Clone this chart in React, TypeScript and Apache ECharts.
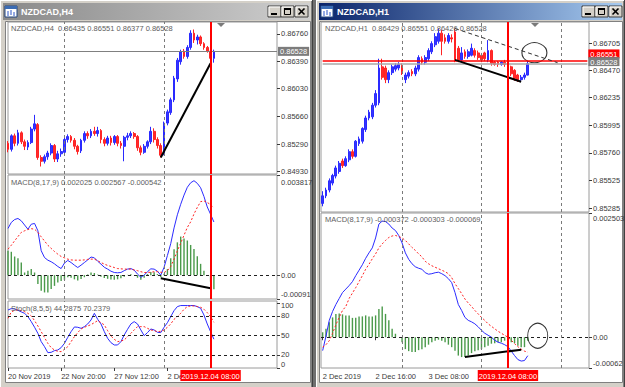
import React, { useEffect, useRef } from "react";
import * as echarts from "echarts";

const FONT = "'Liberation Sans', Arial, Helvetica, sans-serif";
const TXT = "#3a3a3a";
const INFO = "#5e5e5e";

// ---------------- Left window : NZDCAD,H4 ----------------
const leftWindowTitle = "NZDCAD,H4";
const leftInfo = "NZDCAD,H4  0.86435 0.86551 0.86377 0.86528";
const leftMacdInfo = "MACD(8,17,9) 0.002025 0.002567 -0.000542";
const leftStochInfo = "Stoch(8,5,5) 44.2875 70.2379";
const leftSlots = 82;
// [open, close, low, high]
const leftCandles = [
  [0.8530, 0.8522, 0.8518, 0.8533], [0.8522, 0.8540, 0.8519, 0.8542], [0.8540, 0.8530, 0.8526, 0.8543],
  [0.8530, 0.8544, 0.8527, 0.8548], [0.8544, 0.8532, 0.8529, 0.8546], [0.8532, 0.8526, 0.8521, 0.8535],
  [0.8525, 0.8531, 0.8521, 0.8534], [0.8531, 0.8549, 0.8529, 0.8552], [0.8549, 0.8556, 0.8546, 0.8568],
  [0.8555, 0.8511, 0.8508, 0.8557], [0.8511, 0.8506, 0.8499, 0.8514], [0.8506, 0.8512, 0.8503, 0.8515],
  [0.8512, 0.8517, 0.8508, 0.8520], [0.8517, 0.8527, 0.8514, 0.8530], [0.8527, 0.8509, 0.8505, 0.8529],
  [0.8509, 0.8516, 0.8505, 0.8520], [0.8516, 0.8519, 0.8512, 0.8523], [0.8518, 0.8535, 0.8515, 0.8538],
  [0.8535, 0.8539, 0.8531, 0.8542], [0.8539, 0.8534, 0.8531, 0.8541], [0.8534, 0.8526, 0.8522, 0.8537],
  [0.8526, 0.8519, 0.8515, 0.8528], [0.8520, 0.8534, 0.8517, 0.8536], [0.8534, 0.8543, 0.8531, 0.8546],
  [0.8543, 0.8540, 0.8536, 0.8546], [0.8540, 0.8546, 0.8537, 0.8549], [0.8546, 0.8543, 0.8540, 0.8552],
  [0.8543, 0.8547, 0.8539, 0.8552], [0.8547, 0.8535, 0.8530, 0.8549], [0.8535, 0.8530, 0.8526, 0.8538],
  [0.8530, 0.8537, 0.8527, 0.8540], [0.8537, 0.8531, 0.8527, 0.8540], [0.8531, 0.8539, 0.8528, 0.8541],
  [0.8539, 0.8530, 0.8526, 0.8541], [0.8530, 0.8527, 0.8523, 0.8533], [0.8526, 0.8538, 0.8506, 0.8540],
  [0.8538, 0.8540, 0.8534, 0.8544], [0.8540, 0.8543, 0.8537, 0.8546], [0.8543, 0.8539, 0.8536, 0.8545],
  [0.8539, 0.8524, 0.8520, 0.8541], [0.8524, 0.8518, 0.8514, 0.8527], [0.8518, 0.8526, 0.8516, 0.8529],
  [0.8526, 0.8532, 0.8523, 0.8534], [0.8532, 0.8546, 0.8529, 0.8552], [0.8546, 0.8535, 0.8531, 0.8550],
  [0.8535, 0.8527, 0.8523, 0.8538], [0.8527, 0.8514, 0.8511, 0.8530], [0.8516, 0.8557, 0.8514, 0.8559],
  [0.8557, 0.8572, 0.8554, 0.8575], [0.8571, 0.8588, 0.8568, 0.8591], [0.8588, 0.8617, 0.8585, 0.8620],
  [0.8616, 0.8641, 0.8612, 0.8644], [0.8639, 0.8652, 0.8635, 0.8655], [0.8653, 0.8646, 0.8643, 0.8656],
  [0.8646, 0.8658, 0.8643, 0.8661], [0.8658, 0.8677, 0.8655, 0.8681], [0.8677, 0.8668, 0.8664, 0.8682],
  [0.8668, 0.8672, 0.8662, 0.8675], [0.8672, 0.8663, 0.8660, 0.8674], [0.8663, 0.8658, 0.8655, 0.8665],
  [0.8658, 0.8653, 0.8651, 0.8660], [0.8653, 0.86435, 0.8640, 0.8655], [0.86435, 0.86528, 0.86377, 0.86551],
];
const leftMacdMain = [
  0.00178, 0.00201, 0.00212, 0.00216, 0.00207, 0.00191, 0.00175, 0.00194, 0.00197, 0.00169, 0.00093, 0.00067,
  0.00057, 0.00051, 0.00043, 0.00033, 0.00025, 0.00046, 0.00056, 0.00048, 0.00038, 0.00029, 0.00038, 0.00048,
  0.00058, 0.00069, 0.00066, 0.00053, 0.00042, 0.0003, 0.00023, 0.00015, 0.0001, 0.00009, 0.0001, 0.00017,
  0.00023, 0.00025, 0.00019, 0.00004, -0.00008, 0.0, 0.00013, 0.00024, 0.00023, 0.00015, 0.0, 0.0003,
  0.00075, 0.0012, 0.0018, 0.0023, 0.0027, 0.00305, 0.00335, 0.00352, 0.0036, 0.0035, 0.00333, 0.003,
  0.0026, 0.00232, 0.002025,
];
const leftMacdSignal = [
  0.00099, 0.00114, 0.00131, 0.00147, 0.00163, 0.00169, 0.00174, 0.00177, 0.00175, 0.00163, 0.00146, 0.0013,
  0.00114, 0.00102, 0.0009, 0.0008, 0.00071, 0.00066, 0.00061, 0.00058, 0.00057, 0.00057, 0.00057, 0.00058,
  0.0006, 0.00061, 0.00061, 0.00055, 0.00048, 0.00042, 0.00037, 0.00033, 0.00029, 0.00025, 0.00024, 0.00023,
  0.00023, 0.00023, 0.0002, 0.00017, 0.00013, 0.0001, 0.0001, 0.00011, 0.00013, 0.00013, 0.00011, 0.0001,
  0.00017, 0.00033, 0.00061, 0.00093, 0.00122, 0.00152, 0.00182, 0.00203, 0.00233, 0.00258, 0.0028, 0.00283,
  0.00277, 0.00269, 0.002567,
];
const leftMacdHist = [
  0.00093, 0.00089, 0.00071, 0.00064, 0.00048, 0.0001, 0.00017, 0.00023, 0.0001, -0.00034, -0.0006, -0.00066,
  -0.00066, -0.00053, -0.00041, -0.00028, -0.00022, -0.00018, -0.00008, -0.0001, -0.00016, -0.0002, -0.00015, -0.00008,
  0.00002, 0.0001, 0.00008, 0.00002, -0.00006, -0.00011, -0.00014, -0.00017, -0.00018, -0.00016, -0.00012, -0.00006,
  0.00001, 0.00003, 0.0, -0.0001, -0.00018, -0.0001, 0.00004, 0.00012, 0.00011, 0.00004, -0.00008, 0.00005,
  0.00023, 0.00064, 0.00099, 0.00125, 0.00147, 0.0014, 0.00132, 0.00115, 0.001, 0.00072, 0.00043, 0.00017,
  -0.00002, -0.00025, -0.000542,
];
const leftStochMain = [
  89.2, 91.3, 90.8, 88.7, 86.2, 84.1, 79.0, 71.3, 62.6, 53.3, 40.5, 32.8, 23.6, 24.1, 26.7, 27.7, 31.3,
  37.9, 47.2, 55.9, 63.1, 62.6, 61.0, 63.6, 67.7, 73.8, 84.1, 74.9, 67.7, 55.9, 45.6, 39.0, 35.4, 35.4,
  40.5, 50.8, 59.5, 67.7, 71.3, 67.7, 58.5, 49.7, 54.4, 60.0, 58.5, 54.9, 54.4,
  62.6, 69.7, 79.0, 88.2, 94.4, 96.0, 96.0, 96.0, 96.0, 96.0, 94.4, 91.8, 81.5, 67.7, 55.9, 44.2875,
];
const leftStochSignal = [
  76.4, 86.2, 88.7, 89.2, 88.2, 86.7, 84.1, 80.0, 72.8, 64.6, 55.9, 46.7, 37.9, 31.3, 27.7, 25.6, 25.1,
  28.7, 32.8, 40.5, 48.2, 54.4, 60.0, 62.6, 64.6, 66.7, 69.7, 72.8, 69.7, 66.2, 57.4, 49.2, 44.1, 40.5,
  41.5, 43.1, 48.2, 53.3, 58.5, 63.6, 63.6, 63.6, 61.0, 58.5, 57.4, 55.9, 56.4,
  58.5, 62.6, 67.7, 74.9, 79.0, 84.1, 90.3, 94.4, 95.4, 95.4, 94.4, 93.3, 90.3, 85.1, 79.0, 70.2379,
];
const leftTimeTicks: [number, string][] = [[0, "20 Nov 2019"], [16, "22 Nov 20:00"], [32, "27 Nov 12:00"], [48, "2 De"]];
const leftPriceTicks = [0.8676, 0.8639, 0.8603, 0.8566, 0.8529, 0.8493];
const leftPriceRange = [0.8489, 0.8692];
const leftMacdTicks = [0.003817, 0, -0.00091];
const leftMacdTickText = ["0.003817", "0.00", "-0.00091"];
const stochTicks = [100, 80, 50, 20, 0];
const stochTickText = ["100", "80", "50", "20", "0"];
const stochLevels = [80, 50, 20];
const leftSeparators = [17, 47];
const leftMarker = 61;
const leftBid = 0.86528;
const leftTrend: [number, number][] = [[46, 0.8511], [61, 0.8637]];
const leftMacdTrend: [number, number][] = [[46, -0.00012], [61, -0.0005]];

// ---------------- Right window : NZDCAD,H1 ----------------
const rightWindowTitle = "NZDCAD,H1";
const rightInfo = "NZDCAD,H1  0.86429 0.86551 0.86426 0.86528";
const rightMacdInfo = "MACD(8,17,9) -0.000372 -0.000303 -0.000069";
const rightSlots = 81;
const rightCandles = [
  [0.85325, 0.8539, 0.853, 0.8543], [0.8539, 0.8544, 0.8537, 0.8546], [0.8544, 0.8552, 0.8542, 0.8554],
  [0.855, 0.85565, 0.8548, 0.8558], [0.8556, 0.8563, 0.8554, 0.8565], [0.856, 0.8567, 0.8558, 0.8569],
  [0.8569, 0.8565, 0.8563, 0.8571], [0.8565, 0.8571, 0.8564, 0.8573], [0.857, 0.8577, 0.8568, 0.8579],
  [0.8577, 0.8573, 0.8571, 0.8579], [0.8573, 0.8586, 0.8572, 0.8587], [0.8584, 0.8588, 0.8582, 0.859],
  [0.8586, 0.8597, 0.8584, 0.8598], [0.8596, 0.8606, 0.8594, 0.8608], [0.8606, 0.8611, 0.8604, 0.8613],
  [0.8607, 0.8617, 0.8605, 0.8619], [0.8617, 0.8627, 0.8615, 0.863], [0.8619, 0.8649, 0.8617, 0.8657],
  [0.865, 0.8641, 0.8639, 0.8657], [0.8649, 0.8639, 0.8636, 0.8651], [0.8639, 0.8645, 0.8636, 0.8647],
  [0.8645, 0.865, 0.8643, 0.8652], [0.8648, 0.8651, 0.8646, 0.8653], [0.8649, 0.8652, 0.8647, 0.8654],
  [0.8651, 0.8645, 0.8643, 0.8653], [0.8639, 0.8643, 0.8636, 0.8645], [0.8642, 0.8645, 0.864, 0.8647],
  [0.8646, 0.8644, 0.8642, 0.8648], [0.8644, 0.8649, 0.8642, 0.8651], [0.8648, 0.8658, 0.8646, 0.866],
  [0.8657, 0.8654, 0.8652, 0.8659], [0.8654, 0.8658, 0.8652, 0.866], [0.8657, 0.8664, 0.8655, 0.8666],
  [0.8663, 0.867, 0.8661, 0.8672], [0.8669, 0.8676, 0.8667, 0.8679], [0.8672, 0.8679, 0.867, 0.8683],
  [0.8679, 0.8672, 0.866, 0.8682], [0.8675, 0.8672, 0.867, 0.8678], [0.8672, 0.8677, 0.867, 0.8679],
  [0.8675, 0.8674, 0.8671, 0.8678], [0.868, 0.8656, 0.8654, 0.8683], [0.8666, 0.8656, 0.8654, 0.8668],
  [0.8656, 0.8662, 0.8654, 0.8667], [0.8663, 0.8659, 0.8657, 0.8665], [0.8659, 0.8663, 0.8657, 0.8665],
  [0.866, 0.8666, 0.8659, 0.867], [0.8664, 0.866, 0.8658, 0.8666], [0.8662, 0.8658, 0.8656, 0.8664],
  [0.866, 0.8656, 0.8654, 0.8662], [0.8662, 0.8657, 0.8655, 0.8663], [0.8656, 0.8664, 0.8654, 0.8673],
  [0.8664, 0.8653, 0.8651, 0.8665], [0.8654, 0.8652, 0.8651, 0.8655], [0.8654, 0.8652, 0.865, 0.8655],
  [0.8652, 0.8654, 0.8651, 0.8655], [0.8654, 0.8652, 0.865, 0.8656], [0.8654, 0.865, 0.8648, 0.8655],
  [0.865, 0.8644, 0.8642, 0.8651], [0.8647, 0.864, 0.8638, 0.8648], [0.8643, 0.8639, 0.8637, 0.8644],
  [0.8639, 0.8641, 0.8638, 0.8643], [0.8641, 0.8643, 0.8639, 0.8645], [0.86429, 0.86528, 0.86426, 0.86551],
];
const rightMacdMain = [
  -0.00027, 0.00002, 0.00034, 0.00052, 0.00066, 0.00078, 0.0009, 0.00097, 0.00104, 0.00112, 0.00124, 0.00135,
  0.00146, 0.00159, 0.0017, 0.0018, 0.002, 0.00228, 0.00234, 0.00233, 0.00228, 0.0022, 0.00215, 0.00205,
  0.0019, 0.0017, 0.00157, 0.00148, 0.00142, 0.00139, 0.00137, 0.0013, 0.00127, 0.00128, 0.0013, 0.00131,
  0.00128, 0.00124, 0.00118, 0.0011, 0.0009, 0.00066, 0.00054, 0.0004, 0.00034, 0.00031, 0.00027, 0.00021,
  0.00014, 0.00008, 0.00004, 0.0, -0.00006, -0.0001, -0.00012, -0.00015, -0.00019, -0.00028, -0.00037, -0.00045,
  -0.00048, -0.00047, -0.000372,
];
const rightMacdSignal = [
  -0.0002, -0.00015, -0.00007, 0.00008, 0.00025, 0.0004, 0.00054, 0.00062, 0.00078, 0.00089, 0.001, 0.00112,
  0.00124, 0.00137, 0.00147, 0.00158, 0.00168, 0.0018, 0.00188, 0.00195, 0.00201, 0.00204, 0.00205, 0.00203,
  0.002, 0.00195, 0.00188, 0.00181, 0.00175, 0.00168, 0.00162, 0.00153, 0.00148, 0.00144, 0.00141, 0.00138,
  0.00135, 0.00132, 0.00128, 0.0012, 0.00108, 0.00098, 0.00088, 0.00077, 0.00069, 0.00062, 0.00054, 0.00047,
  0.0004, 0.00034, 0.00027, 0.00022, 0.00017, 0.00012, 0.00008, 0.00004, 0.0, -0.00006, -0.00013, -0.00019,
  -0.00024, -0.00028, -0.000303,
];
const rightMacdHist = [
  0.0001, 0.00017, 0.0003, 0.0004, 0.00047, 0.00048, 0.00046, 0.00044, 0.00044, 0.00039, 0.00039, 0.00042,
  0.00042, 0.00044, 0.00042, 0.00042, 0.00044, 0.00057, 0.00062, 0.00047, 0.00034, 0.00017, 0.00007, 0.0,
  -0.0001, -0.00024, -0.00028, -0.0003, -0.0003, -0.00026, -0.00024, -0.0002, -0.00015, -0.0001, -0.00007, -0.00005,
  -0.00007, -0.0001, -0.00015, -0.0002, -0.00027, -0.00037, -0.0004, -0.0004, -0.00037, -0.00032, -0.00028, -0.00026,
  -0.00024, -0.0002, -0.00017, -0.00013, -0.00012, -0.0001, -0.0001, -0.00007, -0.00007, -0.0001, -0.00012, -0.00017,
  -0.0002, -0.0002, -0.000069,
];
const rightTimeTicks: [number, string][] = [[0, "2 Dec 2019"], [16, "2 Dec 16:00"], [32, "3 Dec 08:00"]];
const rightPriceTicks = [0.86705, 0.8647, 0.86235, 0.85995, 0.8576, 0.85525, 0.85285];
const rightPriceRange = [0.85251, 0.86886];
const rightMacdTicks = [0.002503, 0, -0.00062];
const rightMacdTickText = ["0.002503", "0.00", "-0.00062"];
const rightSeparators = [24, 48, 72];
const rightMarker = 56;
const rightBid = 0.86528;
const rightHLine = 0.86551;
const rightTrend: [number, number][] = [[40, 0.8656], [60, 0.86372]];
const rightDotted: [number, number][] = [[40, 0.8683], [71, 0.86536]];
const rightCircle: [number, number] = [64, 0.86622];
const rightMacdTrend: [number, number][] = [[43, -0.0004], [60, -0.00025]];
const rightMacdCircle: [number, number] = [65, 0.00003];
const markerLabel = "2019.12.04 08:00";

function buildOption() {
  const lg = (a: string, b: string) =>
    new echarts.graphic.LinearGradient(0, 0, 1, 0, [
      { offset: 0, color: a },
      { offset: 1, color: b },
    ]);

  const buttons = (x0: number, y0: number) => {
    const els: any[] = [];
    const xs = [x0, x0 + 13, x0 + 27];
    xs.forEach((x, k) => {
      els.push({ type: "rect", z: -8, shape: { x: x, y: y0, width: 13, height: 11 }, style: { fill: "#d4d0c8", stroke: "#404040", lineWidth: 1 } });
      els.push({ type: "polyline", z: -8, shape: { points: [[x + 1, y0 + 10], [x + 1, y0 + 1], [x + 12, y0 + 1]] }, style: { stroke: "#ffffff", fill: null, lineWidth: 1 } });
      if (k === 0) els.push({ type: "rect", z: -7, shape: { x: x + 3, y: y0 + 7, width: 6, height: 2 }, style: { fill: "#000" } });
      if (k === 1) {
        els.push({ type: "rect", z: -7, shape: { x: x + 3.5, y: y0 + 2.5, width: 6, height: 6 }, style: { fill: null, stroke: "#000", lineWidth: 1 } });
        els.push({ type: "rect", z: -7, shape: { x: x + 3, y: y0 + 2, width: 7, height: 2 }, style: { fill: "#000" } });
      }
      if (k === 2) {
        els.push({ type: "line", z: -7, shape: { x1: x + 3.5, y1: y0 + 2.5, x2: x + 9.5, y2: y0 + 8.5 }, style: { stroke: "#000", lineWidth: 1.6 } });
        els.push({ type: "line", z: -7, shape: { x1: x + 9.5, y1: y0 + 2.5, x2: x + 3.5, y2: y0 + 8.5 }, style: { stroke: "#000", lineWidth: 1.6 } });
      }
    });
    return els;
  };

  const icon = (x: number, y: number) => [
    { type: "rect", z: -8, shape: { x: x, y: y, width: 12, height: 11 }, style: { fill: "#ffffff", stroke: "#24467e", lineWidth: 1 } },
    { type: "rect", z: -8, shape: { x: x, y: y, width: 12, height: 3 }, style: { fill: "#3b6cb4" } },
    { type: "line", z: -7, shape: { x1: x + 3, y1: y + 5, x2: x + 3, y2: y + 10 }, style: { stroke: "#2a55c8", lineWidth: 1 } },
    { type: "line", z: -7, shape: { x1: x + 6, y1: y + 4, x2: x + 6, y2: y + 9 }, style: { stroke: "#2a55c8", lineWidth: 1 } },
    { type: "line", z: -7, shape: { x1: x + 9, y1: y + 6, x2: x + 9, y2: y + 10 }, style: { stroke: "#2a55c8", lineWidth: 1 } },
  ];

  const chrome: any[] = [
    { type: "rect", z: -10, shape: { x: 0, y: 0, width: 625, height: 387 }, style: { fill: "#6f6f6f" } },
    // left window
    { type: "rect", z: -10, shape: { x: 0, y: 0, width: 313, height: 387 }, style: { fill: "#d4d0c8" } },
    { type: "line", z: -9, shape: { x1: 0.5, y1: 0, x2: 0.5, y2: 387 }, style: { stroke: "#ffffff" } },
    { type: "line", z: -9, shape: { x1: 0, y1: 0.5, x2: 313, y2: 0.5 }, style: { stroke: "#ffffff" } },
    { type: "line", z: -9, shape: { x1: 311.5, y1: 1, x2: 311.5, y2: 387 }, style: { stroke: "#808080" } },
    { type: "line", z: -9, shape: { x1: 312.5, y1: 0, x2: 312.5, y2: 387 }, style: { stroke: "#404040" } },
    { type: "rect", z: -9, shape: { x: 3, y: 3, width: 307, height: 17 }, style: { fill: lg("#8a8a8a", "#cfcfcf") } },
    ...icon(5, 6),
    { type: "text", z: -7, style: { text: leftWindowTitle, x: 21, y: 11.5, fill: "#ffffff", font: "bold 9px " + FONT, verticalAlign: "middle" } },
    ...buttons(268, 6),
    { type: "rect", z: -9, shape: { x: 5.5, y: 21.5, width: 305, height: 361 }, style: { fill: "#ffffff", stroke: "#808080", lineWidth: 1 } },
    // right window
    { type: "rect", z: -10, shape: { x: 316, y: 0, width: 309, height: 387 }, style: { fill: "#d4d0c8" } },
    { type: "line", z: -9, shape: { x1: 316.5, y1: 0, x2: 316.5, y2: 387 }, style: { stroke: "#ffffff" } },
    { type: "line", z: -9, shape: { x1: 316, y1: 0.5, x2: 625, y2: 0.5 }, style: { stroke: "#ffffff" } },
    { type: "line", z: -9, shape: { x1: 623.5, y1: 1, x2: 623.5, y2: 387 }, style: { stroke: "#808080" } },
    { type: "line", z: -9, shape: { x1: 624.5, y1: 0, x2: 624.5, y2: 387 }, style: { stroke: "#404040" } },
    { type: "rect", z: -9, shape: { x: 319, y: 3, width: 303, height: 17 }, style: { fill: lg("#0a246a", "#a6caf0") } },
    ...icon(321, 6),
    { type: "text", z: -7, style: { text: rightWindowTitle, x: 337, y: 11.5, fill: "#ffffff", font: "bold 9px " + FONT, verticalAlign: "middle" } },
    ...buttons(582, 6),
    { type: "rect", z: -9, shape: { x: 319.5, y: 21.5, width: 303, height: 361 }, style: { fill: "#ffffff", stroke: "#808080", lineWidth: 1 } },
    // shift markers
    { type: "polygon", z: 20, shape: { points: [[217, 23], [225, 23], [221, 27]] }, style: { fill: "#7a7a7a" } },
    { type: "polygon", z: 20, shape: { points: [[531, 23], [539, 23], [535, 27]] }, style: { fill: "#7a7a7a" } },
  ];

  const axisText = { fontSize: 7.5, color: TXT, fontFamily: FONT };
  // value axis: ticks at the values, labels nudged by a few pixels (shiftPx, + = down) like MT4 does at the pane edges
  const valueAxis = (gridIndex: number, min: number, max: number, heightPx: number, ticks: number[], texts: string[], shiftPx: number[]) => {
    const perPx = (max - min) / heightPx;
    const labelPos = ticks.map((t, k) => t - shiftPx[k] * perPx);
    return {
      type: "value",
      gridIndex,
      position: "right",
      min,
      max,
      splitLine: { show: false },
      axisLine: { show: false },
      axisTick: { show: true, length: 3, customValues: ticks, lineStyle: { color: TXT, width: 1 } },
      axisLabel: {
        show: true,
        customValues: labelPos,
        formatter: (v: number) => {
          let best = 0;
          labelPos.forEach((p, k) => { if (Math.abs(p - v) < Math.abs(labelPos[best] - v)) best = k; });
          return texts[best];
        },
        margin: 4, lineHeight: 8, showMinLabel: true, showMaxLabel: true, hideOverlap: false, ...axisText,
      },
    };
  };
  const catAxis = (gridIndex: number, n: number, gap: boolean, ticks?: [number, string][]) => {
    const cats = Array.from({ length: n }, (_, i) => String(i));
    const m = new Map(ticks || []);
    return {
      type: "category",
      gridIndex,
      data: cats,
      boundaryGap: gap,
      axisLine: { show: false },
      splitLine: { show: false },
      axisTick: ticks
        ? { show: true, alignWithLabel: true, length: 3, interval: (i: number) => m.has(i), lineStyle: { color: TXT } }
        : { show: false },
      axisLabel: ticks
        ? { show: true, interval: (i: number) => m.has(i), formatter: (_v: string, i: number) => m.get(i) || "", align: "left", margin: 4, ...axisText }
        : { show: false },
    };
  };

  const gridBase = { show: true, borderColor: "#9a9a9a", borderWidth: 1, backgroundColor: "transparent", containLabel: false, outerBoundsMode: "none" };

  const candleStyle = { color: "#3535ff", color0: "#ff2b2b", borderColor: "#2a2aff", borderColor0: "#ff2424", borderWidth: 1 };
  const sepLines = (idx: number[]) => idx.map((i) => ({ xAxis: i, lineStyle: { color: "#7a7a7a", type: [3, 3], width: 1 } }));
  const redV = (i: number, withLabel: boolean) => ({
    xAxis: i,
    lineStyle: { color: "#ff0000", type: "solid", width: 2 },
    label: withLabel
      ? { show: true, position: "start", formatter: () => markerLabel, backgroundColor: "#ff0000", color: "#ffffff", fontSize: 7.5, fontFamily: FONT, padding: [2, 1, 1, 1], distance: 2 }
      : { show: false },
  });
  const hLevel = (v: number) => ({ yAxis: v, lineStyle: { color: "#202020", type: [3, 3], width: 1 } });
  const seg = (a: [number, number], b: [number, number], style: any, label?: any) => [
    { coord: a, lineStyle: style, label: label || { show: false } },
    { coord: b },
  ];
  // price box at the right end of a horizontal line; liftPx raises the box above the line
  const priceBox = (bg: string, v: number, liftPx: number) => ({
    show: true,
    position: "end",
    distance: 1,
    formatter: () => (liftPx > 0 ? `{a|${v.toFixed(5)}}\n{b| }` : `{a|${v.toFixed(5)}}`),
    rich: {
      a: { backgroundColor: bg, color: "#ffffff", fontSize: 7.5, fontFamily: FONT, padding: [1, 2, 0, 2], lineHeight: 10 },
      b: { fontSize: 1, lineHeight: liftPx * 2 },
    },
  });
  const ml = (data: any[]) => ({ silent: true, symbol: ["none", "none"], label: { show: false }, emphasis: { disabled: true }, data });
  const line = (xi: number, data: number[], color: string, dashed: boolean) => ({
    type: "line", xAxisIndex: xi, yAxisIndex: xi, data, symbol: "none", silent: true,
    lineStyle: { color, width: 1, type: dashed ? [2, 2] : "solid" },
  });
  const infoTitle = (text: string, left: number, top: number) => ({
    text, left, top, padding: 0, textStyle: { fontSize: 7.5, fontWeight: "normal", color: INFO, fontFamily: FONT },
  });
  const fmt5 = (a: number[]) => a.map((v) => v.toFixed(5));

  return {
    animation: false,
    backgroundColor: "#d4d0c8",
    textStyle: { fontFamily: FONT },
    title: [
      infoTitle(leftInfo, 11, 24),
      infoTitle(leftMacdInfo, 11, 178),
      infoTitle(leftStochInfo, 11, 304),
      infoTitle(rightInfo, 325, 24),
      infoTitle(rightMacdInfo, 325, 215),
    ],
    graphic: { elements: chrome },
    grid: [
      { ...gridBase, left: 8, top: 22, width: 269, height: 152 },
      { ...gridBase, left: 8, top: 175, width: 269, height: 124 },
      { ...gridBase, left: 8, top: 301, width: 269, height: 67 },
      { ...gridBase, left: 321, top: 22, width: 268, height: 190 },
      { ...gridBase, left: 321, top: 213, width: 268, height: 155 },
    ],
    xAxis: [
      catAxis(0, leftSlots, false),
      catAxis(1, leftSlots, false),
      catAxis(2, leftSlots, false, leftTimeTicks),
      catAxis(3, rightSlots, true),
      catAxis(4, rightSlots, true, rightTimeTicks),
    ],
    yAxis: [
      valueAxis(0, leftPriceRange[0], leftPriceRange[1], 152, leftPriceTicks, fmt5(leftPriceTicks), leftPriceTicks.map(() => 0)),
      valueAxis(1, -0.00091, 0.003817, 124, leftMacdTicks, leftMacdTickText, [7, 0, -5]),
      valueAxis(2, 0, 103, 67, stochTicks, stochTickText, [3, 0, 0, 0, -4]),
      valueAxis(3, rightPriceRange[0], rightPriceRange[1], 190, rightPriceTicks, fmt5(rightPriceTicks), rightPriceTicks.map(() => 0)),
      valueAxis(4, -0.00062, 0.002503, 155, rightMacdTicks, rightMacdTickText, [5, 0, -5]),
    ],
    series: [
      // ----- left H4 price -----
      {
        type: "candlestick", xAxisIndex: 0, yAxisIndex: 0, data: leftCandles, barWidth: 2.3, itemStyle: candleStyle, silent: true,
        markLine: ml([
          ...sepLines(leftSeparators),
          seg([0, leftBid], [leftSlots - 1, leftBid], { color: "#808080", width: 1, type: "solid" }, priceBox("#7c7c7c", leftBid, 0)),
          seg(leftTrend[0], leftTrend[1], { color: "#000000", width: 2, type: "solid" }),
          redV(leftMarker, false),
        ]),
      },
      // ----- left MACD -----
      {
        type: "bar", xAxisIndex: 1, yAxisIndex: 1, data: leftMacdHist, barWidth: 1.4, itemStyle: { color: "#4a9a4a" }, silent: true,
        markLine: ml([
          hLevel(0),
          ...sepLines(leftSeparators),
          seg(leftMacdTrend[0], leftMacdTrend[1], { color: "#000000", width: 2, type: "solid" }),
          redV(leftMarker, false),
        ]),
      },
      line(1, leftMacdMain, "#2b2bff", false),
      line(1, leftMacdSignal, "#ff2020", true),
      // ----- left Stochastic -----
      {
        ...line(2, leftStochMain, "#2b2bff", false),
        markLine: ml([...stochLevels.map(hLevel), ...sepLines(leftSeparators), redV(leftMarker, true)]),
      },
      line(2, leftStochSignal, "#ff2020", true),
      // ----- right H1 price -----
      {
        type: "candlestick", xAxisIndex: 3, yAxisIndex: 3, data: rightCandles, barWidth: 2.3, itemStyle: candleStyle, silent: true,
        markLine: ml([
          ...sepLines(rightSeparators),
          seg([0, rightHLine], [rightSlots - 1, rightHLine], { color: "#ff0000", width: 1.5, type: "solid" }, priceBox("#ff0000", rightHLine, 7)),
          seg([0, rightBid], [rightSlots - 1, rightBid], { color: "#a8a8a8", width: 1.5, type: "solid" }, priceBox("#7c7c7c", rightBid, 2)),
          seg(rightTrend[0], rightTrend[1], { color: "#000000", width: 2, type: "solid" }),
          seg(rightDotted[0], rightDotted[1], { color: "#303030", width: 1, type: [4, 3] }),
          redV(rightMarker, false),
        ]),
      },
      {
        type: "scatter", xAxisIndex: 3, yAxisIndex: 3, data: [rightCircle], symbol: "circle", symbolSize: [25, 20], silent: true,
        itemStyle: { color: "rgba(0,0,0,0)", borderColor: "#000000", borderWidth: 1 },
      },
      // ----- right MACD -----
      {
        type: "bar", xAxisIndex: 4, yAxisIndex: 4, data: rightMacdHist, barWidth: 1.4, itemStyle: { color: "#4a9a4a" }, silent: true,
        markLine: ml([
          hLevel(0),
          ...sepLines(rightSeparators),
          seg(rightMacdTrend[0], rightMacdTrend[1], { color: "#000000", width: 2, type: "solid" }),
          redV(rightMarker, true),
        ]),
      },
      line(4, rightMacdMain, "#2b2bff", false),
      line(4, rightMacdSignal, "#ff2020", true),
      {
        type: "scatter", xAxisIndex: 4, yAxisIndex: 4, data: [rightMacdCircle], symbol: "circle", symbolSize: [20, 25], silent: true,
        itemStyle: { color: "rgba(0,0,0,0)", borderColor: "#000000", borderWidth: 1 },
      },
    ],
  };
}

export default function App() {
  const ref = useRef<HTMLDivElement>(null);
  useEffect(() => {
    document.body.style.margin = "0";
    const chart = echarts.init(ref.current as HTMLDivElement, null, { renderer: "svg" });
    chart.setOption(buildOption() as any);
    return () => chart.dispose();
  }, []);
  return <div ref={ref} style={{ position: "absolute", left: 0, top: 0, width: 625, height: 387 }} />;
}
